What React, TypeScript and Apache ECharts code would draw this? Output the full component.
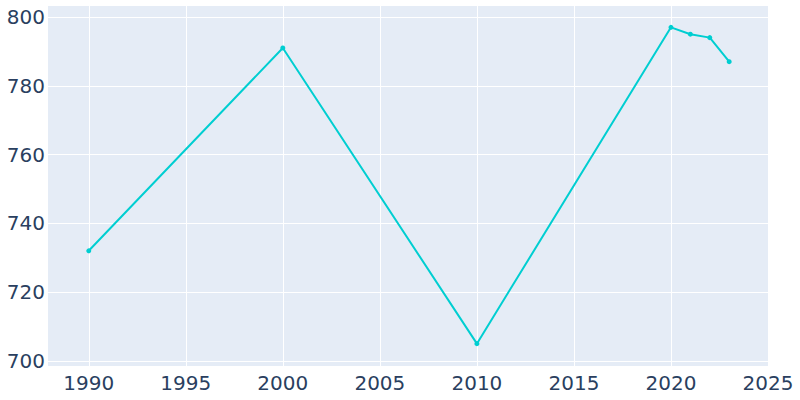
import React, { useEffect, useRef } from "react";
import * as echarts from "echarts";

const years = [1990, 2000, 2010, 2020, 2021, 2022, 2023];
const population = [732, 791, 705, 797, 795, 794, 787];
const xTicks = [1990, 1995, 2000, 2005, 2010, 2015, 2020, 2025];
const yTicks = [700, 720, 740, 760, 780, 800];

export default function App() {
  const ref = useRef<HTMLDivElement>(null);
  useEffect(() => {
    if (!ref.current) return;
    const chart = echarts.init(ref.current, null, { renderer: "svg" });
    const font = "DejaVu Sans";
    chart.setOption({
      animation: false,
      grid: { left: 48, right: 32, top: 6, bottom: 34, backgroundColor: "#E5ECF6", show: true, borderWidth: 0 },
      xAxis: {
        type: "value",
        min: 1987.9,
        max: 2025,
        axisLine: { show: false },
        axisTick: { show: false, customValues: xTicks },
        axisLabel: { customValues: xTicks, formatter: (v: number) => String(v), color: "#2a3f5f", fontFamily: font, fontSize: 20, margin: 7, showMinLabel: true, showMaxLabel: true },
        splitLine: { show: true, lineStyle: { color: "#ffffff", width: 1 } },
      },
      yAxis: {
        type: "value",
        min: 698.5,
        max: 803.2,
        axisLine: { show: false },
        axisTick: { show: false, customValues: yTicks },
        axisLabel: { customValues: yTicks, formatter: (v: number) => String(v), color: "#2a3f5f", fontFamily: font, fontSize: 20, margin: 3 },
        splitLine: { show: true, lineStyle: { color: "#ffffff", width: 1 } },
      },
      series: [
        {
          type: "line",
          data: years.map((y, i) => [y, population[i]]),
          symbol: "circle",
          symbolSize: 5,
          lineStyle: { color: "#00CED1", width: 2 },
          itemStyle: { color: "#00CED1" },
        },
      ],
    });
    return () => chart.dispose();
  }, []);
  return <div ref={ref} style={{ width: 800, height: 400, position: "absolute", left: 0, top: 0 }} />;
}
